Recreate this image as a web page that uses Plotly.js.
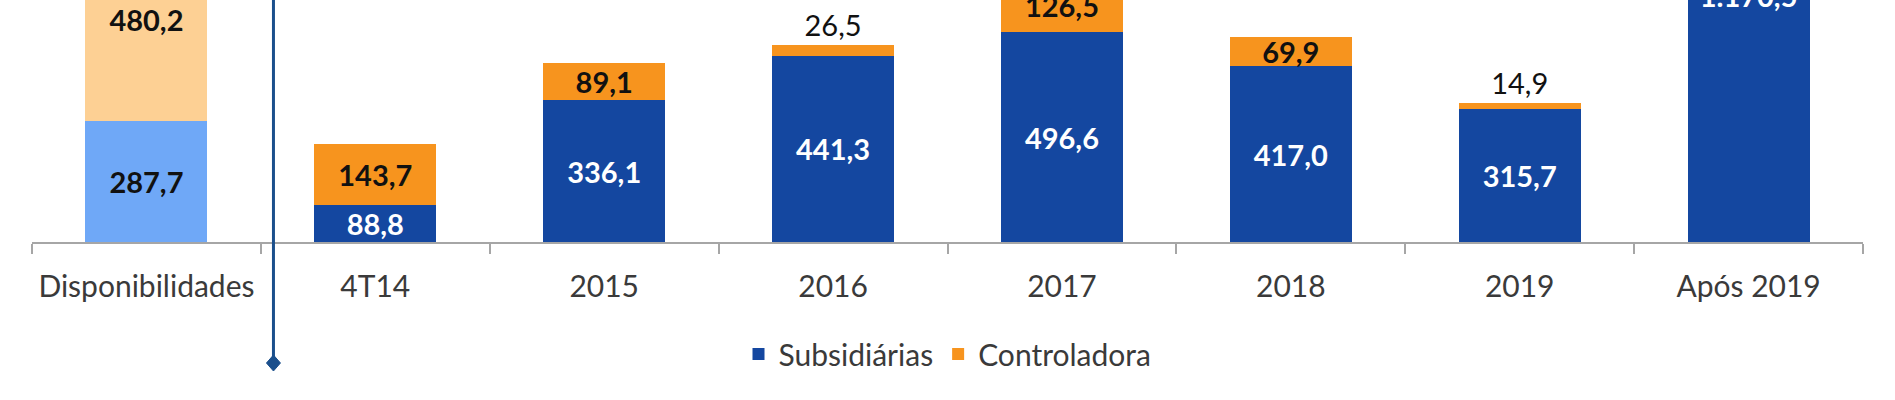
<!DOCTYPE html>
<html>
<head>
<meta charset="utf-8">
<script src="https://cdn.plot.ly/plotly-3.0.1.min.js"></script>
<style>
  html, body { margin: 0; padding: 0; background: #fff; }
  #graph { width: 1895px; height: 400px; }
</style>
</head>
<body>
<div id="graph"></div>
<script>
// caixa disponivel x cronograma de amortizacao (R$ milhoes)
const categoriaCaixa = ['Disponibilidades']
const caixaSubsidiarias = [287.7]
const caixaControladora = [480.2]

const anos = ['4T14', '2015', '2016', '2017', '2018', '2019', 'Após 2019']
const subsidiarias = [88.8, 336.1, 441.3, 496.6, 417.0, 315.7, 1170.5]
const anosControladora = ['4T14', '2015', '2016', '2017', '2018', '2019']
const controladora = [143.7, 89.1, 26.5, 126.5, 69.9, 14.9]
const posicaoTexto = ['inside', 'inside', 'outside', 'inside', 'inside', 'outside']

const azul = '#1447a0'
const laranja = '#f7941e'
const fonte = 'Lato, "Open Sans", sans-serif'

const graphData = [
    {
        x: categoriaCaixa,
        y: caixaSubsidiarias,
        type: 'bar',
        name: 'Subsidiárias',
        showlegend: false,
        marker: { color: '#6fa8f7' },
        texttemplate: '%{y:,.1f}',
        textposition: 'inside',
        insidetextanchor: 'middle',
        insidetextfont: { family: fonte, size: 29, color: '#111', weight: 'bold' },
        constraintext: 'none',
        hoverinfo: 'skip'
    },
    {
        x: categoriaCaixa,
        y: caixaControladora,
        type: 'bar',
        name: 'Controladora',
        showlegend: false,
        marker: { color: '#fdd094' },
        texttemplate: '%{y:,.1f}',
        textposition: 'inside',
        insidetextanchor: 'middle',
        insidetextfont: { family: fonte, size: 29, color: '#111', weight: 'bold' },
        constraintext: 'none',
        hoverinfo: 'skip'
    },
    {
        x: anos,
        y: subsidiarias,
        type: 'bar',
        name: 'Subsidiárias',
        marker: { color: azul },
        texttemplate: '%{y:,.1f}',
        textposition: 'inside',
        insidetextanchor: 'middle',
        insidetextfont: { family: fonte, size: 29, color: '#fff', weight: 'bold' },
        constraintext: 'none'
    },
    {
        x: anosControladora,
        y: controladora,
        type: 'bar',
        name: 'Controladora',
        marker: { color: laranja },
        texttemplate: '%{y:,.1f}',
        textposition: posicaoTexto,
        insidetextanchor: 'middle',
        insidetextfont: { family: fonte, size: 29, color: '#111', weight: 'bold' },
        outsidetextfont: { family: fonte, size: 29, color: '#111' },
        constraintext: 'none'
    }
]

const layout = {
    width: 1895,
    height: 400,
    margin: { l: 32, r: 32, t: 0, b: 158 },
    barmode: 'stack',
    bargap: 0.467,
    separators: ',.',
    paper_bgcolor: '#fff',
    plot_bgcolor: '#fff',
    font: { family: fonte, size: 30, color: '#3a3a3a' },
    xaxis: {
        type: 'category',
        categoryorder: 'array',
        categoryarray: categoriaCaixa.concat(anos),
        showline: true,
        linecolor: '#a6a6a6',
        linewidth: 2,
        ticks: 'outside',
        tickson: 'boundaries',
        ticklen: 10,
        tickwidth: 2,
        tickcolor: '#a6a6a6',
        ticklabelstandoff: 17,
        tickfont: { family: fonte, size: 30, color: '#3a3a3a' },
        showgrid: false,
        zeroline: false,
        fixedrange: true
    },
    yaxis: {
        range: [0, 573.5],
        visible: false,
        fixedrange: true
    },
    legend: {
        orientation: 'h',
        x: 0.5,
        xanchor: 'center',
        y: -0.463,
        yanchor: 'middle',
        font: { family: fonte, size: 30, color: '#3a3a3a' },
        traceorder: 'normal'
    },
    shapes: [
        {
            type: 'line',
            xref: 'x',
            yref: 'paper',
            x0: 0.555, x1: 0.555,
            y0: -0.5, y1: 1,
            line: { color: '#1b4f8c', width: 3 }
        },
        {
            type: 'path',
            xref: 'x',
            yref: 'paper',
            xsizemode: 'pixel',
            ysizemode: 'pixel',
            xanchor: 0.555,
            yanchor: -0.5,
            path: 'M0,8 L7,0 L0,-8 L-7,0 Z',
            fillcolor: '#1b4f8c',
            line: { color: '#1b4f8c', width: 1 }
        }
    ]
}

Plotly.newPlot('graph', graphData, layout, { displayModeBar: false, staticPlot: true })
</script>
</body>
</html>
